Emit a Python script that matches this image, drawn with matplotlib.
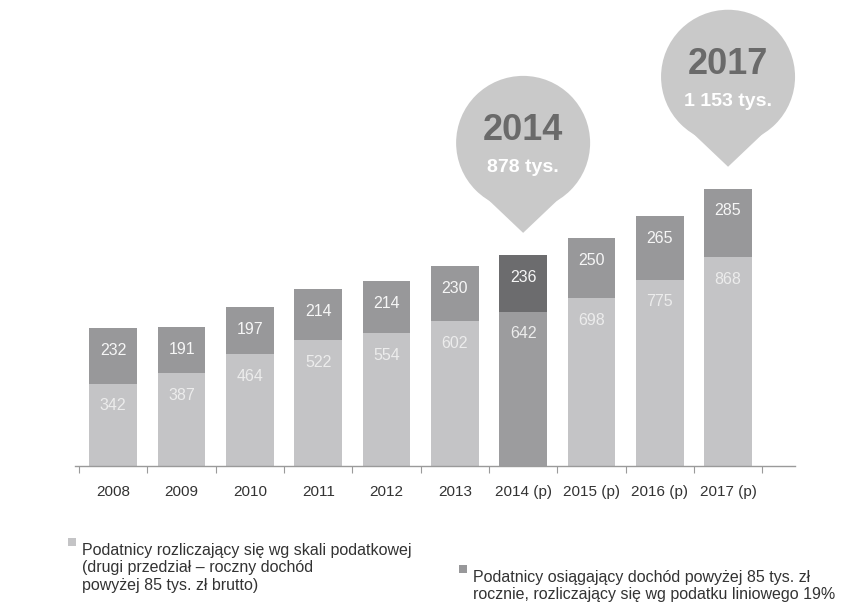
import matplotlib
matplotlib.use("Agg")
import matplotlib.pyplot as plt
import matplotlib.transforms as mtransforms
from matplotlib.patches import Circle, Polygon, Rectangle

plt.rcParams['font.family'] = ['Liberation Sans', 'DejaVu Sans']

# Data
years = ['2008', '2009', '2010', '2011', '2012', '2013',
         '2014 (p)', '2015 (p)', '2016 (p)', '2017 (p)']
skala = [342, 387, 464, 522, 554, 602, 642, 698, 775, 868]
liniowy = [232, 191, 197, 214, 214, 230, 236, 250, 265, 285]
highlight = 6  # 2014 bar drawn darker
bubbles = {6: ('2014', '878 tys.'), 9: ('2017', '1 153 tys.')}

light, dark = '#c4c4c6', '#98989a'
light_hl, dark_hl = '#9c9c9e', '#6c6c6e'
bubble_col = '#c9c9c9'

fig = plt.figure(figsize=(8.6, 6.16), dpi=100)
ax = fig.add_axes([75 / 860, 150 / 616, 720 / 860, 466 / 616])

x = list(range(len(years)))
bot_cols = [light_hl if i == highlight else light for i in x]
top_cols = [dark_hl if i == highlight else dark for i in x]

ax.bar(x, skala, width=0.70, color=bot_cols, linewidth=0)
ax.bar(x, liniowy, bottom=skala, width=0.70, color=top_cols, linewidth=0)

for i in x:
    total = skala[i] + liniowy[i]
    ax.annotate(str(liniowy[i]), (i, total), xytext=(0, -16), textcoords='offset points',
                ha='center', va='center', color='#f6f6f6', fontsize=11.5)
    ax.annotate(str(skala[i]), (i, skala[i]), xytext=(0, -16), textcoords='offset points',
                ha='center', va='center', color='#ececec', fontsize=11.5)

ax.set_xlim(-0.56, 9.98)
ax.set_ylim(0, 1938)
for s in ['top', 'right', 'left']:
    ax.spines[s].set_visible(False)
ax.spines['bottom'].set_color('#9a9a9a')
ax.spines['bottom'].set_linewidth(1)
ax.set_yticks([])
ax.set_xticks(x)
ax.set_xticklabels(years, fontsize=11, color='#333333')
ax.tick_params(axis='x', length=0, pad=14)
ax.set_xticks([i - 0.5 for i in x] + [9.5], minor=True)
ax.tick_params(axis='x', which='minor', length=5, color='#9a9a9a', width=0.8)

# speech-bubble callouts above selected bars (shapes in pixels)
for i, (yr, txt) in bubbles.items():
    total = skala[i] + liniowy[i]
    tr = mtransforms.ScaledTranslation(i, total, ax.transData) + mtransforms.Affine2D().translate(0, 22)
    tr = mtransforms.Affine2D() + tr
    r, cy = 67, 90
    ax.add_patch(Polygon([(0, 0), (-40, cy - 52), (40, cy - 52)], closed=True,
                         facecolor=bubble_col, edgecolor='none', transform=tr, clip_on=False))
    ax.add_patch(Circle((0, cy), r, facecolor=bubble_col, edgecolor='none',
                        transform=tr, clip_on=False))
    ax.text(0, cy + 12, yr, transform=tr, ha='center', va='center', fontsize=26,
            fontweight='bold', color='#6a6a6a', clip_on=False)
    ax.text(0, cy - 25, txt, transform=tr, ha='center', va='center', fontsize=14,
            fontweight='bold', color='white', clip_on=False)

# legend
fig.add_artist(Rectangle((68 / 860, 1 - 546 / 616), 8 / 860, 8 / 616,
                         transform=fig.transFigure, facecolor=light, edgecolor='none'))
fig.text(82 / 860, 1 - 543 / 616,
         'Podatnicy rozliczający się wg skali podatkowej\n(drugi przedział – roczny dochód\npowyżej 85 tys. zł brutto)',
         ha='left', va='top', fontsize=11.5, color='#333333', linespacing=1.2)
fig.add_artist(Rectangle((459 / 860, 1 - 573 / 616), 8 / 860, 8 / 616,
                         transform=fig.transFigure, facecolor=dark, edgecolor='none'))
fig.text(473 / 860, 1 - 570 / 616,
         'Podatnicy osiągający dochód powyżej 85 tys. zł\nrocznie, rozliczający się wg podatku liniowego 19%',
         ha='left', va='top', fontsize=11.5, color='#333333', linespacing=1.2)

fig.savefig('out.png', dpi=100)
